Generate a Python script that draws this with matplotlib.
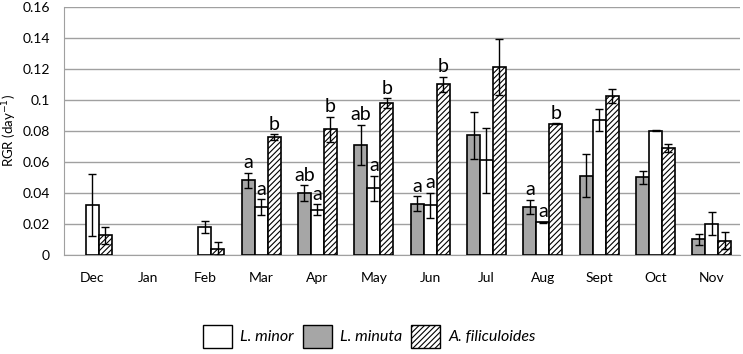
import matplotlib.pyplot as plt
import matplotlib.ticker as mticker
from matplotlib.patches import Patch
import numpy as np

months = ['Dec', 'Jan', 'Feb', 'Mar', 'Apr', 'May', 'Jun', 'Jul', 'Aug', 'Sept', 'Oct', 'Nov']

# L. minuta (grey)
minuta = [0, 0, 0, 0.048, 0.040, 0.071, 0.033, 0.077, 0.031, 0.051, 0.050, 0.010]
minuta_err = [0, 0, 0, 0.005, 0.005, 0.013, 0.005, 0.015, 0.0045, 0.014, 0.0043, 0.0036]
minuta_lbl = ['', '', '', 'a', 'ab', 'ab', 'a', '', 'a', '', '', '']

# L. minor (white)
minor = [0.032, 0, 0.018, 0.031, 0.029, 0.043, 0.032, 0.061, 0.021, 0.087, 0.080, 0.020]
minor_err = [0.020, 0, 0.004, 0.005, 0.0035, 0.008, 0.008, 0.021, 0.0005, 0.007, 0.0004, 0.0075]
minor_lbl = ['', '', '', 'a', 'a', 'a', 'a', '', 'a', '', '', '']

# A. filiculoides (hatched)
azolla = [0.0125, 0, 0.004, 0.076, 0.081, 0.098, 0.110, 0.121, 0.0845, 0.1025, 0.069, 0.009]
azolla_err = [0.0055, 0, 0.0045, 0.002, 0.008, 0.003, 0.005, 0.018, 0.0003, 0.0045, 0.0025, 0.0055]
azolla_lbl = ['', '', '', 'b', 'b', 'b', 'b', '', 'b', '', '', '']

plt.rcParams['font.family'] = ['Lato', 'DejaVu Sans']
plt.rcParams['hatch.linewidth'] = 0.8

fig = plt.figure(figsize=(7.43, 3.54), dpi=100)
ax = fig.add_axes([0.086, 0.28, 0.91, 0.701])

x = np.arange(len(months))
w = 0.23
grey = '#a6a6a6'
ekw = dict(ecolor='black', elinewidth=1, capsize=3, capthick=1)

series = [
    (minuta, minuta_err, minuta_lbl, -w, dict(color=grey)),
    (minor, minor_err, minor_lbl, 0, dict(color='white')),
    (azolla, azolla_err, azolla_lbl, w, dict(color='white', hatch='//////')),
]

for vals, errs, lbls, off, style in series:
    vals = np.array(vals)
    errs = np.array(errs)
    show = vals > 0
    ax.bar(x[show] + off, vals[show], w, edgecolor='black', linewidth=1.2,
           yerr=errs[show], error_kw=ekw, zorder=3, **style)
    for xi, v, e, t in zip(x, vals, errs, lbls):
        if t:
            ax.annotate(t, (xi + off, v + e), xytext=(0, 1), textcoords='offset points',
                        ha='center', va='bottom', fontsize=14, zorder=4)

ax.set_xlim(-0.5, 11.5)
ax.set_ylim(0, 0.16)
ax.set_yticks(np.arange(0, 0.161, 0.02))
ax.yaxis.set_major_formatter(mticker.FuncFormatter(lambda v, p: '%g' % round(v, 2)))
ax.set_xticks(x)
ax.set_xticklabels(months)
ax.tick_params(axis='both', length=0, labelsize=10)
ax.tick_params(axis='x', pad=12)
ax.tick_params(axis='y', pad=10)
ax.grid(axis='y', color='#a0a0a0', linewidth=1, zorder=0)
for s in ['top', 'right']:
    ax.spines[s].set_visible(False)
for s in ['left', 'bottom']:
    ax.spines[s].set_color('#a0a0a0')
ax.set_ylabel('RGR (day$^{-1}$)', fontsize=9.5)
ax.yaxis.set_label_coords(-0.066, 0.5)

handles = [
    Patch(facecolor='white', edgecolor='black', label='L. minor'),
    Patch(facecolor=grey, edgecolor='black', label='L. minuta'),
    Patch(facecolor='white', edgecolor='black', hatch='//////', label='A. filiculoides'),
]
leg = fig.legend(handles=handles, loc='center', bbox_to_anchor=(0.497, 0.05), ncol=3,
                 frameon=False, handlelength=1.8, handleheight=1.8, handletextpad=0.5,
                 columnspacing=0.6, prop={'style': 'italic', 'size': 11.5})

fig.savefig('out.png', dpi=100)
